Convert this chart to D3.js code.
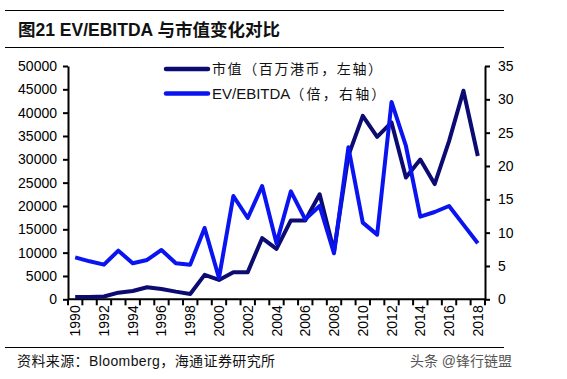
<!DOCTYPE html>
<html><head><meta charset="utf-8">
<script src="https://cdn.jsdelivr.net/npm/d3@7/dist/d3.min.js"></script>
<style>
body{margin:0;background:#fff;}
svg{display:block;}
text{font-family:Arial,"Liberation Sans","Noto Sans CJK SC",sans-serif;}
</style></head>
<body>
<svg id="c" width="567" height="379"></svg>
<script>
const years = d3.range(1990, 2019).map(String);
const marketCap = [500,500,600,1420,1790,2580,2220,1640,1140,5240,4160,5820,5820,13100,10800,16900,16900,22500,10300,30800,39300,34800,37900,26100,29950,24700,33900,44700,30700];
const evEbitda = [6.3,5.7,5.2,7.3,5.4,5.9,7.4,5.4,5.2,10.7,3.2,15.5,12.2,17.0,8.4,16.2,12.0,14.0,6.9,22.8,11.5,9.7,29.6,23.0,12.4,13.1,14.0,11.2,8.4];
const leftTicks = d3.range(0, 50001, 5000);
const rightTicks = d3.range(0, 36, 5);
const xLabels = years.filter((d,i)=>i%2===0);
const seriesLatin = ["", "EV/EBITDA"];
const seriesCjk = ["市值（百万港币，左轴）","（倍，右轴）"];
const colors = ["#0b0b72","#0a14f0"];

const svg = d3.select("#c");
const L=68, R=485, T=66, B=299.3;
const x = d3.scaleBand().domain(years).range([L, R]);
const yL = d3.scaleLinear().domain([0,50000]).range([B,T]);
const yR = d3.scaleLinear().domain([0,35]).range([B,T]);

// title and rules
svg.append("line").attr("x1",5).attr("x2",504).attr("y1",10.5).attr("y2",10.5).attr("stroke","#000").attr("stroke-width",1);
svg.append("line").attr("x1",5).attr("x2",504).attr("y1",47.5).attr("y2",47.5).attr("stroke","#000").attr("stroke-width",1);
svg.append("text").attr("x",18).attr("y",36).attr("font-size",17.5).attr("font-weight","bold").attr("fill","#111")
  .text("图21 EV/EBITDA 与市值变化对比");

// axes
const axisStyle = g => {
  g.select(".domain").attr("stroke","#000").attr("stroke-width",2);
  g.selectAll(".tick line").attr("stroke","#000").attr("stroke-width",2);
  g.selectAll("text").attr("font-size",14).attr("fill","#000").attr("font-family","Arial,'Liberation Sans',sans-serif");
};
svg.append("g").attr("transform",`translate(${L},0)`)
  .call(d3.axisLeft(yL).tickValues(leftTicks).tickSize(5).tickSizeOuter(0).tickPadding(6).tickFormat(d3.format("d")))
  .call(axisStyle);
svg.append("g").attr("transform",`translate(${R},0)`)
  .call(d3.axisRight(yR).tickValues(rightTicks).tickSize(5).tickSizeOuter(0).tickPadding(8).tickFormat(d3.format("d")))
  .call(axisStyle);

// x axis
const gx = svg.append("g").attr("transform",`translate(0,${B})`);
gx.append("line").attr("x1",L).attr("x2",R).attr("stroke","#000").attr("stroke-width",2);
gx.selectAll("line.t").data(d3.range(years.length+1)).join("line").attr("class","t")
  .attr("x1",i=>L+i*x.step()).attr("x2",i=>L+i*x.step()).attr("y1",0).attr("y2",6)
  .attr("stroke","#000").attr("stroke-width",2);
gx.selectAll("text").data(xLabels).join("text")
  .attr("transform",d=>`translate(${x(d)+x.bandwidth()/2+5},6) rotate(-90)`)
  .attr("text-anchor","end").attr("font-size",14).attr("fill","#000").text(d=>d);

// lines
const lineL = d3.line().x((d,i)=>x(years[i])+x.bandwidth()/2).y(d=>yL(d));
const lineR = d3.line().x((d,i)=>x(years[i])+x.bandwidth()/2).y(d=>yR(d));
svg.append("path").datum(marketCap).attr("d",lineL).attr("fill","none").attr("stroke",colors[0]).attr("stroke-width",4).attr("stroke-linejoin","round");
svg.append("path").datum(evEbitda).attr("d",lineR).attr("fill","none").attr("stroke",colors[1]).attr("stroke-width",4).attr("stroke-linejoin","round");

// legend
const leg = svg.append("g");
seriesCjk.forEach((n,i)=>{
  const yy = 69 + i*24.5;
  leg.append("line").attr("x1",166).attr("x2",208).attr("y1",yy).attr("y2",yy)
    .attr("stroke",colors[i]).attr("stroke-width",4.5).attr("stroke-linecap","round");
  const t = leg.append("text").attr("x",212).attr("y",yy+5).attr("font-size",14).attr("fill","#111");
  if (seriesLatin[i]) t.append("tspan").attr("font-size",15).text(seriesLatin[i]);
  t.append("tspan").attr("letter-spacing",i===0?1.6:2.2).text(n);
});

// footer
svg.append("line").attr("x1",5).attr("x2",504).attr("y1",347.5).attr("y2",347.5).attr("stroke","#000").attr("stroke-width",1);
svg.append("text").attr("x",17).attr("y",366).attr("font-size",14).attr("fill","#111").attr("letter-spacing",0.4).text("资料来源：Bloomberg，海通证券研究所");
svg.append("text").attr("x",512).attr("y",366).attr("text-anchor","end").attr("font-size",14).attr("fill","#555").text("头条 @锋行链盟");
</script>
</body></html>
